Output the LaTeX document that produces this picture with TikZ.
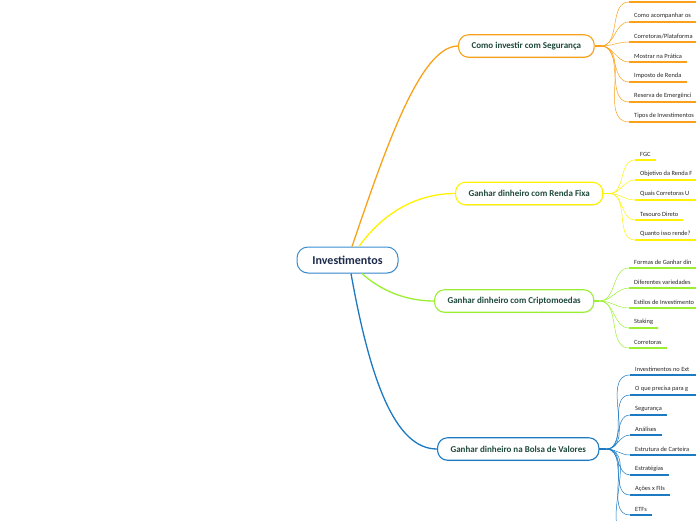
\documentclass[tikz,border=0pt]{standalone}
\usepackage{fontspec}
\setmainfont{Carlito}
\usepackage{tikz}
\usetikzlibrary{shadows}
\definecolor{rootline}{HTML}{3A8DD0}
\definecolor{roottext}{HTML}{1B2A4A}
\definecolor{branchtext}{HTML}{1F4A3C}
\definecolor{leaftext}{HTML}{262626}
\definecolor{orangeb}{HTML}{F9A11B}
\definecolor{yellowb}{HTML}{FFF200}
\definecolor{greenb}{HTML}{9BEF33}
\definecolor{blueb}{HTML}{1B7AC2}

\begin{document}
\begin{tikzpicture}[x=1pt, y=-1pt,
    rootbox/.style={draw=rootline, line width=1pt, fill=white, rounded corners=11pt,
      minimum width=101pt, minimum height=26pt, text=roottext,
      font=\fontsize{12}{14}\selectfont\bfseries,
      drop shadow={opacity=0.15, shadow xshift=0.6pt, shadow yshift=-1pt}},
    branchbox/.style={draw=#1, line width=1.1pt, fill=white, rounded corners=10pt,
      minimum height=22.5pt, inner xsep=13pt, anchor=west, text=branchtext,
      font=\fontsize{9}{11}\selectfont\bfseries,
      drop shadow={opacity=0.15, shadow xshift=0.6pt, shadow yshift=-1pt}},
    leaf/.style={anchor=south west, inner xsep=5pt, inner ysep=3.5pt, text=leaftext,
      font=\fontsize{6.4}{7.5}\selectfont},
    whole/.style={},
    cut/.style={text width=72pt, align=flush left},
    limb/.style={draw=#1, line width=1.3pt},
    twig/.style={draw=#1, line width=0.5pt},
    uline/.style={draw=#1, line width=1.6pt}]

  \path[use as bounding box] (0,0) rectangle (696,520);
  \clip (0,0) rectangle (696,520);

  % centre
  \node[rootbox] (root) at (347.5,260) {Investimentos};

  % main branches
  \node[branchbox=orangeb] (ob) at (458,46) {Como investir com Segurança};
  \node[branchbox=yellowb] (yb) at (455,193.5) {Ganhar dinheiro com Renda Fixa};
  \node[branchbox=greenb] (gb) at (434,301) {Ganhar dinheiro com Criptomoedas};
  \node[branchbox=blueb] (bb) at (437,449) {Ganhar dinheiro na Bolsa de Valores};

  \draw[limb=orangeb] ([xshift=4.5pt]root.north) .. controls (385,150) and (420,46) .. (ob.west);
  \draw[limb=yellowb] ([xshift=11.5pt]root.north) .. controls (385,210) and (420,193.5) .. (yb.west);
  \draw[limb=greenb] ([xshift=14.5pt]root.south) .. controls (380,290) and (405,301) .. (gb.west);
  \draw[limb=blueb] ([xshift=3.5pt]root.south) .. controls (370,380) and (395,449) .. (bb.west);

  % hubs
  \coordinate (oh) at ([xshift=6pt]ob.east);
  \coordinate (yh) at ([xshift=6pt]yb.east);
  \coordinate (gh) at ([xshift=5pt]gb.east);
  \coordinate (bh) at ([xshift=7pt]bb.east);
  \draw[limb=orangeb] (ob.east) -- (oh);
  \draw[limb=yellowb] (yb.east) -- (yh);
  \draw[limb=greenb] (gb.east) -- (gh);
  \draw[limb=blueb] (bb.east) -- (bh);

  % orange leaves
  \coordinate (o0) at (629,2);
  \coordinate (o0e) at (700,2);
  \draw[uline=orangeb] (o0) -- (o0e);
  \draw[twig=orangeb] (oh) to[out=0, in=180] (o0);
  \foreach \i/\y/\t/\s in {1/22/Como acompanhar os/cut,
      2/42/{Corretoras/Plataforma}/cut, 3/62/Mostrar na Prática/whole,
      4/82/Imposto de Renda/whole, 5/102/Reserva de Emergênci/cut,
      6/122/Tipos de Investimentos/cut}{
    \node[leaf, \s] (o\i) at (629,\y) {\t};
    \draw[uline=orangeb] (o\i.south west) -- (o\i.south east);
    \draw[twig=orangeb] (oh) to[out=0, in=180] (o\i.south west);
  }

  % yellow leaves
  \foreach \i/\y/\t/\s in {1/160/FGC/whole, 2/180/Objetivo da Renda F/cut,
      3/200/Quais Corretoras U/cut, 4/220/Tesouro Direto/whole,
      5/240/Quanto isso rende?/cut}{
    \node[leaf, \s] (y\i) at (635,\y) {\t};
    \draw[uline=yellowb] (y\i.south west) -- (y\i.south east);
    \draw[twig=yellowb] (yh) to[out=0, in=180] (y\i.south west);
  }

  % green leaves
  \foreach \i/\y/\t/\s in {1/268/Formas de Ganhar din/cut,
      2/288/Diferentes variedades/cut, 3/308/Estilos de Investimento/cut,
      4/328/Staking/whole, 5/348/Corretoras/whole}{
    \node[leaf, \s] (g\i) at (629,\y) {\t};
    \draw[uline=greenb] (g\i.south west) -- (g\i.south east);
    \draw[twig=greenb] (gh) to[out=0, in=180] (g\i.south west);
  }

  % blue leaves
  \foreach \i/\y/\t/\s in {1/375/Investimentos no Ext/cut,
      2/395/O que precisa para g/cut, 3/415/Segurança/whole,
      4/435/Análises/whole, 5/455/Estrutura de Carteira/cut,
      6/475/Estratégias/whole, 7/495/Ações x FIIs/whole, 8/515/ETFs/whole}{
    \node[leaf, \s] (b\i) at (630,\y) {\t};
    \draw[uline=blueb] (b\i.south west) -- (b\i.south east);
    \draw[twig=blueb] (bh) to[out=0, in=180] (b\i.south west);
  }
  \coordinate (b9) at (630,536);
  \draw[twig=blueb] (bh) to[out=0, in=180] (b9);
\end{tikzpicture}
\end{document}
